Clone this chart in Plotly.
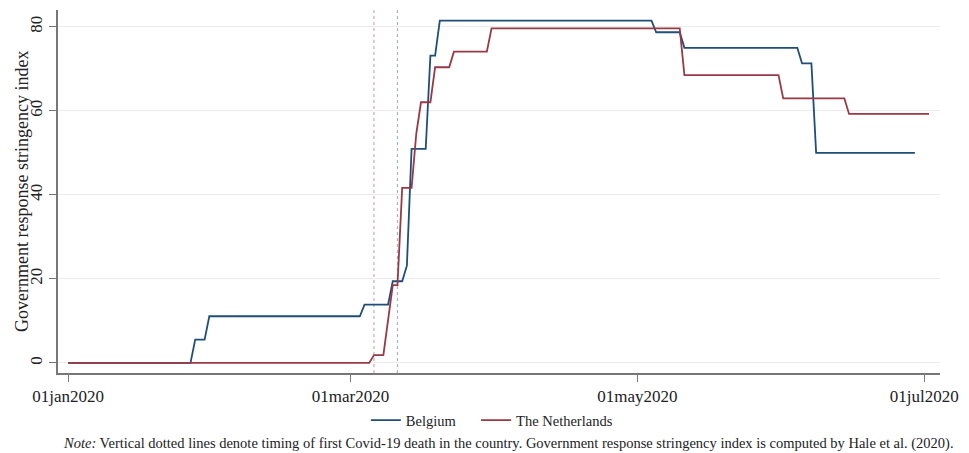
import plotly.graph_objects as go

# Belgium stringency index: vertices of the daily step series
be_dates = ["2020-01-01", "2020-01-27", "2020-01-28", "2020-01-30", "2020-01-31",
            "2020-03-03", "2020-03-04", "2020-03-09", "2020-03-10", "2020-03-12",
            "2020-03-13", "2020-03-14", "2020-03-17", "2020-03-18", "2020-03-19",
            "2020-03-20", "2020-05-04", "2020-05-05", "2020-05-10", "2020-05-11",
            "2020-06-04", "2020-06-05", "2020-06-07", "2020-06-08", "2020-06-29"]
be_values = [0, 0, 5.56, 5.56, 11.11,
             11.11, 13.89, 13.89, 19.44, 19.44,
             23.15, 50.93, 50.93, 73.15, 73.15,
             81.48, 81.48, 78.7, 78.7, 75.0,
             75.0, 71.3, 71.3, 50.0, 50.0]

# The Netherlands stringency index
nl_dates = ["2020-01-01", "2020-03-05", "2020-03-06", "2020-03-08", "2020-03-10",
            "2020-03-11", "2020-03-12", "2020-03-14", "2020-03-15", "2020-03-16",
            "2020-03-18", "2020-03-19", "2020-03-22", "2020-03-23", "2020-03-30",
            "2020-03-31", "2020-05-10", "2020-05-11", "2020-05-31", "2020-06-01",
            "2020-06-14", "2020-06-15", "2020-07-02"]
nl_values = [0, 0, 1.85, 1.85, 18.52,
             18.52, 41.67, 41.67, 54.6, 62.04,
             62.04, 70.37, 70.37, 74.07, 74.07,
             79.63, 79.63, 68.52, 68.52, 62.96,
             62.96, 59.26, 59.26]

# First Covid-19 death dates
death_dates = ["2020-03-06", "2020-03-11"]
death_colors = ["#c9aeb2", "#aab3c4"]

tick_vals = ["2020-01-01", "2020-03-01", "2020-05-01", "2020-07-01"]
tick_text = ["01jan2020", "01mar2020", "01may2020", "01jul2020"]
y_ticks = [0, 20, 40, 60, 80]

FONT = "Liberation Serif"

fig = go.Figure()
fig.add_trace(go.Scatter(x=be_dates, y=be_values, mode="lines", name="Belgium",
                         line=dict(color="#1f4e79", width=1.8), legend="legend"))
fig.add_trace(go.Scatter(x=nl_dates, y=nl_values, mode="lines", name="The Netherlands",
                         line=dict(color="#983a45", width=1.8), legend="legend2"))

for d, c in zip(death_dates, death_colors):
    fig.add_shape(type="line", xref="x", yref="paper", x0=d, x1=d, y0=0, y1=1,
                  line=dict(color=c, width=1.2, dash="dot"), layer="below")

legend_common = dict(orientation="h", xanchor="left", y=-0.13, yanchor="middle",
                     itemwidth=30, font=dict(size=14.5, family=FONT, color="#222222"),
                     bgcolor="rgba(0,0,0,0)")

fig.update_layout(
    width=961, height=445,
    margin=dict(l=50, r=29, t=2, b=80, autoexpand=False),
    paper_bgcolor="white", plot_bgcolor="white",
    font=dict(family=FONT, size=17, color="#222222"),
    showlegend=True,
    legend=dict(x=0.349, **legend_common),
    legend2=dict(x=0.474, **legend_common),
    xaxis=dict(
        type="date", range=["2019-12-29 20:00", "2020-07-04 08:00"],
        tickvals=tick_vals, ticktext=tick_text,
        showgrid=False, zeroline=False, automargin=False,
        showline=True, linecolor="#777777", linewidth=1.5,
        ticks="outside", ticklen=7, tickcolor="#777777",
        tickfont=dict(size=17, family=FONT),
    ),
    yaxis=dict(
        range=[-2.4, 84], tickvals=y_ticks, tickangle=-90,
        showgrid=True, gridcolor="#ececec", gridwidth=1, zeroline=False, automargin=False,
        showline=True, linecolor="#777777", linewidth=1.5,
        ticks="outside", ticklen=7, tickcolor="#777777",
        tickfont=dict(size=17, family=FONT),
    ),
    annotations=[
        dict(text="Government response stringency index", textangle=-90,
             xref="paper", yref="paper", x=-0.0415, y=0.5, xanchor="center", yanchor="middle",
             showarrow=False, font=dict(size=18, family=FONT, color="#222222")),
        dict(text="<i>Note:</i> Vertical dotted lines denote timing of first Covid-19 death in the country. "
                  "Government response stringency index is computed by Hale et al. (2020).",
             xref="paper", yref="paper", x=0.511, y=-0.194, xanchor="center", yanchor="middle",
             showarrow=False, font=dict(size=14.5, family=FONT, color="#222222")),
    ],
)

fig.write_html("out.html")
